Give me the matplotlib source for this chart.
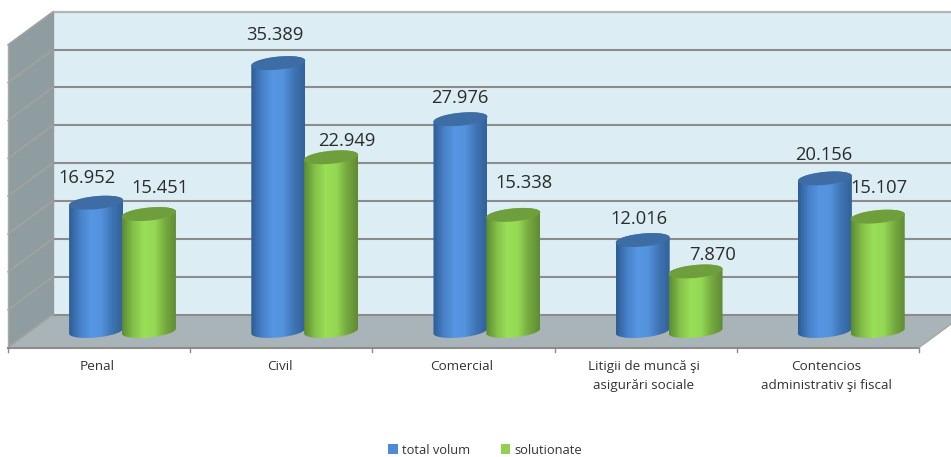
import numpy as np
import matplotlib.pyplot as plt
from matplotlib.colors import LinearSegmentedColormap
from matplotlib.patches import Patch, PathPatch, Polygon
from matplotlib.path import Path

categorii = ["Penal", "Civil", "Comercial", "Litigii de muncă şi\nasigurări sociale",
             "Contencios\nadministrativ şi fiscal"]
total_volum = [16952, 35389, 27976, 12016, 20156]
solutionate = [15451, 22949, 15338, 7870, 15107]
grid_valori = [0, 5000, 10000, 15000, 20000, 25000, 30000, 35000, 40000]

# label offsets from the top of each cylinder, in pixels
offset_total = [(-9, 25), (-3, 28), (-1, 21), (-4, 21), (-1, 23)]
offset_sol = [(11, 26), (16, 16), (11, 32), (17, 16), (1, 29)]

W, H = 951, 457
PX_X = 182.2          # pixels per category
PX_Y = 0.00757        # pixels per unit of value
X0_PX = 8             # left end of the front floor edge
Y0_PX = 331           # value 0 in the middle of the floor

plt.rcParams['font.family'] = ['Open Sans', 'DejaVu Sans']

fig = plt.figure(figsize=(W / 100, H / 100), dpi=100)
ax = fig.add_axes([0, 0, 1, 1])
ax.axis("off")

xlim = (-0.5 - X0_PX / PX_X, -0.5 + (W - X0_PX) / PX_X)
ylim = (-(H - Y0_PX) / PX_Y, Y0_PX / PX_Y)

dx = 22.5 / PX_X      # half of the depth
dy = 16.5 / PX_Y
x_st, x_dr = -0.5, 4.5
y_top = grid_valori[-1]

# walls and floor
ax.add_patch(Polygon([(x_st + 2 * dx, y_top + dy), (x_dr + 2 * dx, y_top + dy),
                      (x_dr + 2 * dx, dy), (x_st + 2 * dx, dy)],
                     fc="#DCEEF4", ec="none", zorder=1))
ax.add_patch(Polygon([(x_st, y_top - dy), (x_st + 2 * dx, y_top + dy),
                      (x_st + 2 * dx, dy), (x_st, -dy)],
                     fc="#8F9DA0", ec="none", zorder=1))
ax.add_patch(Polygon([(x_st, -dy), (x_st + 2 * dx, dy),
                      (x_dr + 2 * dx, dy), (x_dr, -dy)],
                     fc="#A8B4B7", ec="none", zorder=1))

for v in grid_valori:
    ax.plot([x_st + 2 * dx, x_dr + 2 * dx], [v + dy, v + dy], color="#8C8C8C", lw=1.5, zorder=2)
    ax.plot([x_st, x_st + 2 * dx], [v - dy, v + dy], color="#A3A3A3", lw=1.1, zorder=2)
ax.plot([x_st + 2 * dx, x_dr + 2 * dx], [y_top + dy, y_top + dy], color="#B5B5B5", lw=1.5, zorder=2)
ax.plot([x_st + 2 * dx, x_st + 2 * dx], [dy, y_top + dy], color="#9A9A9A", lw=1, zorder=2)

# front axis and ticks
ax.plot([x_st, x_st], [-dy, y_top - dy], color="#A8A8A8", lw=1, zorder=2)
ax.plot([x_st, x_dr], [-dy, -dy], color="#8C8C8C", lw=1.5, zorder=2)
ax.plot([x_dr, x_dr + 2 * dx], [-dy, dy], color="#A8A8A8", lw=1.1, zorder=2)
for i in range(len(categorii) + 1):
    ax.plot([i - 0.5] * 2, [-dy, -dy - 4 / PX_Y], color="#8C8C8C", lw=1, zorder=2)

cmap_blue = LinearSegmentedColormap.from_list(
    "b", ["#2E5C94", "#4680C8", "#5796E2", "#5492DD", "#3F74B4", "#33619A"])
cmap_green = LinearSegmentedColormap.from_list(
    "g", ["#5C8A32", "#83C049", "#9ADF58", "#94D853", "#74A83F", "#5F8B33"])

A = 27 / PX_X         # cylinder half width
B = 6.5 / PX_Y        # ellipse half height
K = 2.5 / PX_Y        # tilt of the ellipse
t = np.linspace(0, 2 * np.pi, 80)


def cilindru(xc, val, cmap, cap, z):
    # bottom half of the ellipse at 0, then back up and along the top
    tb = np.linspace(np.pi, 2 * np.pi, 40)
    xb = xc + A * np.cos(tb)
    yb = B * np.sin(tb) + K * np.cos(tb)
    tt = np.linspace(0, np.pi, 40)
    xt = xc + A * np.cos(tt)
    yt = val + B * np.sin(tt) + K * np.cos(tt)
    path = Path(np.column_stack([np.r_[xb, xt], np.r_[yb, yt]]))
    img = ax.imshow(np.linspace(0, 1, 128).reshape(1, -1), cmap=cmap, aspect="auto",
                    extent=(xc - A, xc + A, -2 * B, val + 2 * B), zorder=z)
    img.set_clip_path(PathPatch(path, transform=ax.transData))
    ax.fill(xc + A * np.cos(t), val + B * np.sin(t) + K * np.cos(t),
            fc=cap, ec="none", zorder=z + 0.1)


for i in range(len(categorii)):
    xb = i + dx - 0.14
    xg = i + dx + 0.15
    cilindru(xb, total_volum[i], cmap_blue, "#3E6CA4", 3 + i * 0.01)
    cilindru(xg, solutionate[i], cmap_green, "#6F9E3C", 4 + i * 0.01)
    for xc, v, off in [(xb, total_volum[i], offset_total[i]), (xg, solutionate[i], offset_sol[i])]:
        ax.annotate(f"{v:,}".replace(",", "."), (xc, v), xytext=off, textcoords="offset pixels",
                    ha="center", va="center", fontsize=13.2, color="#2B2B2B", zorder=6)
    ax.text(i - 0.01, -(360 - Y0_PX) / PX_Y, categorii[i], ha="center", va="top",
            fontsize=9.7, color="#333333", linespacing=1.55, zorder=6)

ax.set_xlim(xlim)
ax.set_ylim(ylim)

handles = [Patch(fc="#4F8AD6", label="total volum"), Patch(fc="#92D050", label="solutionate")]
fig.legend(handles=handles, loc="center", bbox_to_anchor=(485 / W, 1 - 450 / H), ncols=2,
           frameon=False, fontsize=9.3, labelcolor="#333333", handlelength=0.75, handleheight=0.75,
           handletextpad=0.3, columnspacing=2.4)

fig.savefig("out.png", dpi=100)
